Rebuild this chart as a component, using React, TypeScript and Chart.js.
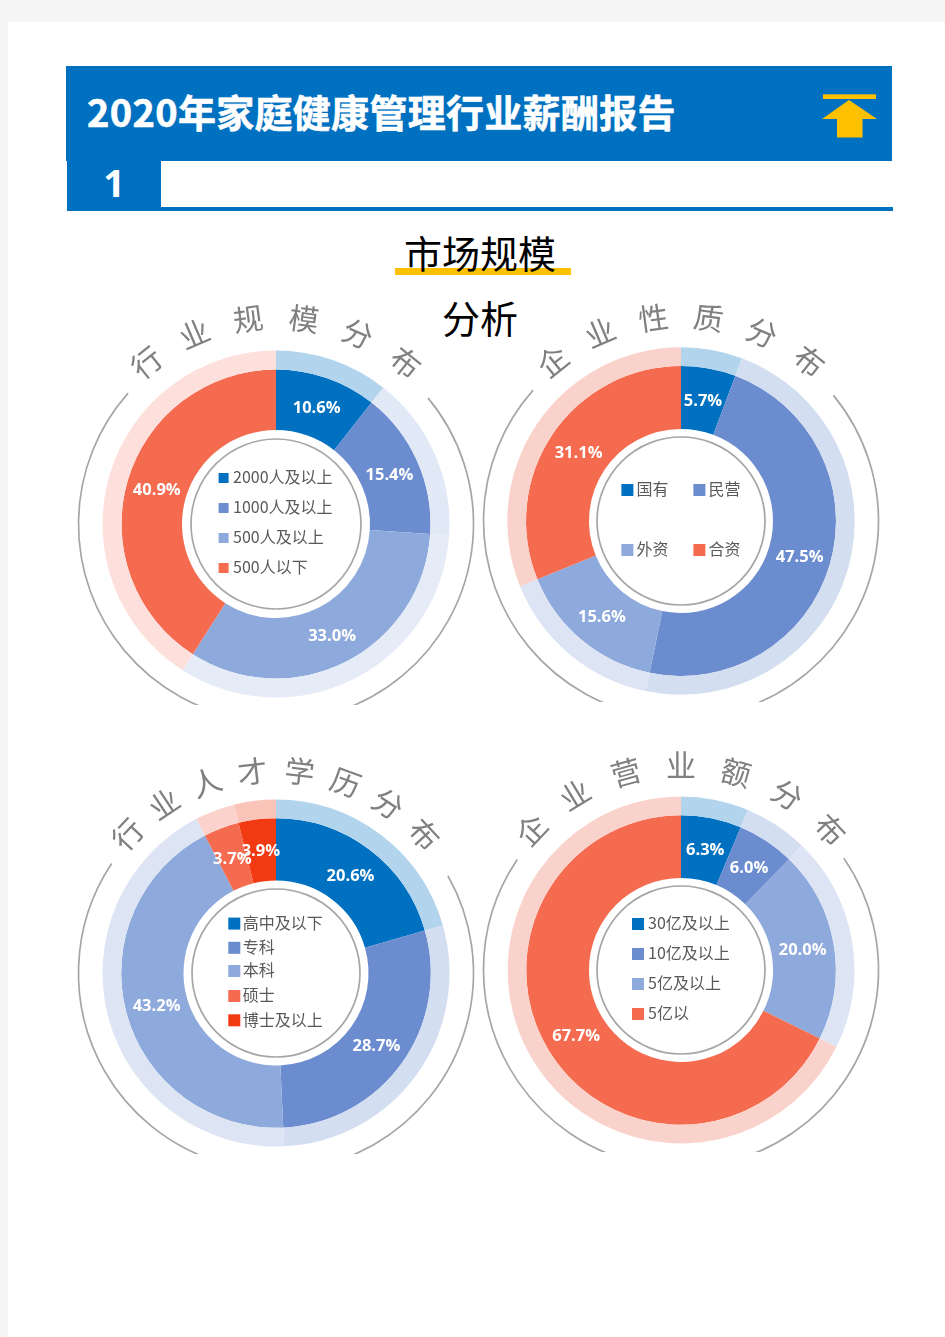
import React, { useEffect, useRef } from "react";
import { Chart, registerables } from "chart.js";

Chart.register(...registerables);

const BLUE = "#0070C0";
const CJK = '"Noto Sans CJK SC", "Noto Sans", sans-serif';

// ---- Data ----
const scaleCategories = ["2000人及以上", "1000人及以上", "500人及以上", "500人以下"];
const scaleValues = [10.6, 15.4, 33.0, 40.9];
const scaleSolid = ["#0070C0", "#6C8CD0", "#8EA9DB", "#F56B4F"];
const scaleLight = ["#B2D4EC", "#E1E8F6", "#E6ECF7", "#FDE0DC"];

const natureCategories = ["国有", "民营", "外资", "合资"];
const natureValues = [5.7, 47.5, 15.6, 31.1];
const natureSolid = ["#0070C0", "#6C8CD0", "#8EA9DB", "#F56B4F"];
const natureLight = ["#B2D4EC", "#D3DEF1", "#DDE5F5", "#FAD2CC"];

const eduCategories = ["高中及以下", "专科", "本科", "硕士", "博士及以上"];
const eduValues = [20.6, 28.7, 43.2, 3.7, 3.9];
const eduSolid = ["#0070C0", "#6C8CD0", "#8EA9DB", "#F56B4F", "#F23A12"];
const eduLight = ["#B2D4EC", "#D3DEF1", "#DDE5F5", "#FBD3CC", "#FAC4B8"];

const revenueCategories = ["30亿及以上", "10亿及以上", "5亿及以上", "5亿以"];
const revenueValues = [6.3, 6.0, 20.0, 67.7];
const revenueSolid = ["#0070C0", "#6C8CD0", "#8EA9DB", "#F56B4F"];
const revenueLight = ["#B2D4EC", "#D3DEF1", "#DDE5F5", "#FAD2CC"];

const HALF = 240; // half of each canvas side

type RingProps = {
  title: string;
  categories: string[];
  values: number[];
  solid: string[];
  light: string[];
  cx: number;
  cy: number;
  clipY: number;
  outer: number;
  mid: number;
  hole: number;
  lineR: number;
  titleR: number;
  titleStep: number;
  gapLeft: number;
  gapRight: number;
  markerSize: number;
  legendPos: [number, number][];
  labelGap: number;
};

const rad = (deg: number) => (deg * Math.PI) / 180;

function Ring(p: RingProps) {
  const ref = useRef<HTMLCanvasElement | null>(null);

  useEffect(() => {
    if (!ref.current) return;
    const decor = {
      id: "decor",
      afterDatasetsDraw(chart: any) {
        const ctx = chart.ctx as CanvasRenderingContext2D;
        const meta = chart.getDatasetMeta(1);
        const ox = (chart.chartArea.left + chart.chartArea.right) / 2;
        const oy = (chart.chartArea.top + chart.chartArea.bottom) / 2;
        ctx.save();

        // thin rings
        ctx.strokeStyle = "#A6A6A6";
        ctx.lineWidth = 1.7;
        ctx.beginPath();
        ctx.arc(ox, oy, p.lineR, 0, Math.PI * 2);
        ctx.stroke();
        ctx.beginPath();
        ctx.arc(ox, oy, 197.5, rad(p.gapRight - 90), rad(p.gapLeft - 90 + 360));
        ctx.stroke();

        // percentage labels
        ctx.fillStyle = "#FFFFFF";
        ctx.font = 'bold 16.5px "Open Sans", sans-serif';
        ctx.textAlign = "center";
        ctx.textBaseline = "middle";
        meta.data.forEach((arc: any, i: number) => {
          const pt = arc.getCenterPoint();
          ctx.fillText(p.values[i].toFixed(1) + "%", pt.x, pt.y + 1.5);
        });

        // legend
        ctx.textAlign = "left";
        ctx.font = `16px ${CJK}`;
        p.categories.forEach((cat, i) => {
          const [lx, ly] = p.legendPos[i];
          ctx.fillStyle = p.solid[i];
          ctx.fillRect(ox + lx, oy + ly - p.markerSize / 2, p.markerSize, p.markerSize);
          ctx.fillStyle = "#595959";
          ctx.fillText(cat, ox + lx + p.markerSize + p.labelGap, oy + ly - 0.8);
        });

        // curved title
        const chars = Array.from(p.title);
        ctx.fillStyle = "#808080";
        ctx.font = `400 30px ${CJK}`;
        ctx.textAlign = "center";
        const start = (-p.titleStep * (chars.length - 1)) / 2;
        chars.forEach((ch, i) => {
          const a = rad(start + i * p.titleStep);
          ctx.save();
          ctx.translate(ox + Math.sin(a) * p.titleR, oy - Math.cos(a) * p.titleR);
          ctx.rotate(a);
          ctx.fillText(ch, 0, 0);
          ctx.restore();
        });
        ctx.restore();
      },
    };

    const chart = new Chart(ref.current, {
      type: "doughnut",
      data: {
        labels: p.categories,
        datasets: [
          { data: p.values, backgroundColor: p.light, borderWidth: 0, weight: p.outer - p.mid },
          { data: p.values, backgroundColor: p.solid, borderWidth: 0, weight: p.mid - p.hole },
        ],
      },
      options: {
        responsive: false,
        animation: false,
        cutout: `${(p.hole / p.outer) * 100}%`,
        layout: { padding: HALF - p.outer },
        plugins: { legend: { display: false }, tooltip: { enabled: false }, title: { display: false } },
      } as any,
      plugins: [decor],
    } as any);
    return () => chart.destroy();
  }, []);

  return (
    <div
      style={{
        position: "absolute",
        left: p.cx - HALF,
        top: p.cy - HALF,
        width: HALF * 2,
        height: p.clipY - (p.cy - HALF),
        overflow: "hidden",
      }}
    >
      <canvas ref={ref} width={HALF * 2} height={HALF * 2} style={{ display: "block" }} />
    </div>
  );
}

export default function App() {
  return (
    <div
      style={{
        position: "absolute",
        left: 0,
        top: 0,
        width: 945,
        height: 1337,
        overflow: "hidden",
        background: "#F5F5F5",
        fontFamily: CJK,
      }}
    >
      <div style={{ position: "absolute", left: 8, top: 22, width: 937, height: 1315, background: "#FFFFFF" }} />

      {/* header */}
      <div style={{ position: "absolute", left: 66, top: 66, width: 826, height: 95, background: BLUE }} />
      <div
        style={{
          position: "absolute",
          left: 87,
          top: 63,
          height: 95,
          lineHeight: "95px",
          color: "#FFF",
          fontWeight: 700,
          fontSize: 38,
          letterSpacing: 0.3,
          WebkitTextStroke: "0.6px #FFF",
          whiteSpace: "nowrap",
        }}
      >
        2020年家庭健康管理行业薪酬报告
      </div>
      <svg style={{ position: "absolute", left: 815, top: 88, width: 70, height: 56 }} viewBox="0 0 70 56">
        <rect x={8} y={6.3} width={53} height={4.7} fill="#FFC000" />
        <polygon points="34,12 62,31 47.5,31 47.5,49.5 22,49.5 22,31 7,31" fill="#FFC000" />
      </svg>
      <div style={{ position: "absolute", left: 67, top: 161, width: 94, height: 46, background: BLUE }} />
      <div
        style={{
          position: "absolute",
          left: 67,
          top: 159,
          width: 94,
          height: 46,
          lineHeight: "46px",
          textAlign: "center",
          color: "#FFF",
          fontWeight: 700,
          fontSize: 38,
          fontFamily: '"Open Sans", sans-serif',
        }}
      >
        1
      </div>
      <div style={{ position: "absolute", left: 67, top: 207, width: 826, height: 4, background: BLUE }} />

      {/* section heading */}
      <div style={{ position: "absolute", left: 395, top: 268, width: 176, height: 7, background: "#FFC000" }} />
      <div
        style={{
          position: "absolute",
          left: 380,
          top: 219,
          width: 200,
          textAlign: "center",
          fontSize: 38,
          lineHeight: "65px",
          color: "#000",
        }}
      >
        市场规模
        <br />
        分析
      </div>

      <Ring
        title="行业规模分布"
        categories={scaleCategories}
        values={scaleValues}
        solid={scaleSolid}
        light={scaleLight}
        cx={275.7}
        cy={523.5}
        clipY={705}
        outer={173.5}
        mid={154.5}
        hole={94}
        lineR={85}
        titleR={207}
        titleStep={15.5}
        gapLeft={-48.5}
        gapRight={50.3}
        markerSize={10}
        labelGap={4.5}
        legendPos={[[-57.4, -46], [-57.4, -16], [-57.4, 14], [-57.4, 44]]}
      />
      <Ring
        title="企业性质分布"
        categories={natureCategories}
        values={natureValues}
        solid={natureSolid}
        light={natureLight}
        cx={681.3}
        cy={521.3}
        clipY={702.5}
        outer={173.7}
        mid={155}
        hole={92}
        lineR={84}
        titleR={205}
        titleStep={15.5}
        gapLeft={-48.5}
        gapRight={50.5}
        markerSize={12}
        labelGap={3}
        legendPos={[[-59.6, -31], [12.4, -31], [-59.6, 29], [12.4, 29]]}
      />
      <Ring
        title="行业人才学历分布"
        categories={eduCategories}
        values={eduValues}
        solid={eduSolid}
        light={eduLight}
        cx={275.7}
        cy={972.7}
        clipY={1154}
        outer={173.5}
        mid={154.8}
        hole={92.5}
        lineR={84}
        titleR={203}
        titleStep={13.4}
        gapLeft={-56.3}
        gapRight={60.5}
        markerSize={12}
        labelGap={2.5}
        legendPos={[[-47.7, -49.4], [-47.7, -25.2], [-47.7, -2], [-47.7, 23], [-47.7, 47.3]]}
      />
      <Ring
        title="企业营业额分布"
        categories={revenueCategories}
        values={revenueValues}
        solid={revenueSolid}
        light={revenueLight}
        cx={681.3}
        cy={970}
        clipY={1151.7}
        outer={173.4}
        mid={154.8}
        hole={92}
        lineR={84}
        titleR={205}
        titleStep={15.6}
        gapLeft={-56}
        gapRight={55.5}
        markerSize={12}
        labelGap={4}
        legendPos={[[-49, -46], [-49, -16], [-49, 14], [-49, 44]]}
      />
    </div>
  );
}
